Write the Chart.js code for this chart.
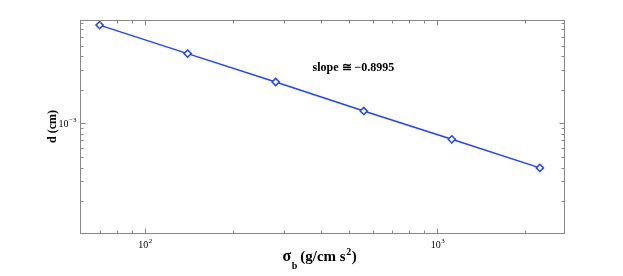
<!DOCTYPE html>
<html>
<head>
<meta charset="utf-8">
<script src="https://cdn.jsdelivr.net/npm/chart.js@4"></script>
<style>
  html, body { margin: 0; padding: 0; background: #fff; }
  #wrap { width: 623px; height: 276px; }
</style>
</head>
<body>
<div id="wrap"><canvas id="c" width="623" height="276"></canvas></div>
<script>
/* data */
var sigmaB = [70, 140, 280, 560, 1120, 2240];
var dCm = [7.63e-3, 4.23e-3, 2.35e-3, 1.29e-3, 7.17e-4, 3.97e-4];

var xMajor = [100, 1000];
var xMajorLabels = [['10', '2'], ['10', '3']];
var yMajor = [1e-3];
var yMajorLabels = [['10', '\u22123']];

var slopeText = 'slope \u2245 \u22120.8995';

var AXIS = '#888';
var BLUE = '#2343ff';
var SERIF = '"Liberation Serif", "DejaVu Serif", serif';

/* minor ticks for each decade inside the axis range */
function logTicks(min, max) {
  var out = [];
  var e0 = Math.floor(Math.log10(min)), e1 = Math.ceil(Math.log10(max));
  for (var e = e0; e <= e1; e++) {
    for (var m = 1; m < 10; m++) {
      var v = m * Math.pow(10, e);
      if (v > min * 1.001 && v < max * 0.999) out.push(v);
    }
  }
  return out;
}

var framePlugin = {
  id: 'frame',
  afterDraw: function(chart) {
    var ctx = chart.ctx, a = chart.chartArea;
    var xs = chart.scales.x, ys = chart.scales.y;
    var L = Math.round(a.left) + 0.5, R = Math.round(a.right) - 0.5;
    var T = Math.round(a.top) + 0.5, B = Math.round(a.bottom) - 0.5;

    ctx.save();
    ctx.strokeStyle = AXIS;
    ctx.lineWidth = 1;
    ctx.strokeRect(L, T, R - L, B - T);

    ctx.beginPath();
    logTicks(xs.min, xs.max).forEach(function(v) {
      var px = Math.round(xs.getPixelForValue(v)) + 0.5;
      var len = xMajor.indexOf(v) >= 0 ? 5 : 3;
      ctx.moveTo(px, B); ctx.lineTo(px, B - len);
      ctx.moveTo(px, T); ctx.lineTo(px, T + len);
    });
    logTicks(ys.min, ys.max).forEach(function(v) {
      var py = Math.round(ys.getPixelForValue(v)) + 0.5;
      var major = yMajor.some(function(m) { return Math.abs(m - v) / m < 1e-6; });
      var len = major ? 5 : 3;
      ctx.moveTo(L, py); ctx.lineTo(L + len, py);
      ctx.moveTo(R, py); ctx.lineTo(R - len, py);
    });
    ctx.stroke();

    /* tick labels with superscripts */
    ctx.fillStyle = '#000';
    ctx.textBaseline = 'alphabetic';
    xMajor.forEach(function(v, i) {
      var px = xs.getPixelForValue(v);
      ctx.font = '10px ' + SERIF;
      var wb = ctx.measureText(xMajorLabels[i][0]).width;
      ctx.font = '7px ' + SERIF;
      var we = ctx.measureText(xMajorLabels[i][1]).width;
      var x0 = px - (wb + we) / 2;
      ctx.font = '10px ' + SERIF;
      ctx.textAlign = 'left';
      ctx.fillText(xMajorLabels[i][0], x0, 248);
      ctx.font = '7px ' + SERIF;
      ctx.fillText(xMajorLabels[i][1], x0 + wb + 0.5, 243);
    });
    yMajor.forEach(function(v, i) {
      var py = ys.getPixelForValue(v);
      ctx.font = '7px ' + SERIF;
      var we = ctx.measureText(yMajorLabels[i][1]).width;
      ctx.font = '10px ' + SERIF;
      var wb = ctx.measureText(yMajorLabels[i][0]).width;
      var x1 = L - 4;
      ctx.textAlign = 'left';
      ctx.fillText(yMajorLabels[i][0], x1 - we - wb - 0.5, py + 3.5);
      ctx.font = '7px ' + SERIF;
      ctx.fillText(yMajorLabels[i][1], x1 - we, py - 1.5);
    });

    /* x axis title: sigma_b (g/cm s^2) */
    var x = 282.5, base = 261;
    ctx.textAlign = 'left';
    ctx.font = 'bold 16px ' + SERIF;
    ctx.fillText('\u03c3', x, base);
    x += ctx.measureText('\u03c3').width + 0.5;
    ctx.font = 'bold 10px ' + SERIF;
    ctx.fillText('b', x, base + 8);
    x += ctx.measureText('b').width + 3;
    ctx.font = 'bold 15px ' + SERIF;
    ctx.fillText('(g/cm s', x, base);
    x += ctx.measureText('(g/cm s').width + 0.5;
    ctx.font = 'bold 10px ' + SERIF;
    ctx.fillText('2', x, base - 6.5);
    x += ctx.measureText('2').width + 0.5;
    ctx.font = 'bold 15px ' + SERIF;
    ctx.fillText(')', x, base);

    /* y axis title */
    ctx.save();
    ctx.translate(56, 126.5);
    ctx.rotate(-Math.PI / 2);
    ctx.textAlign = 'center';
    ctx.font = 'bold 12px ' + SERIF;
    ctx.fillText('d (cm)', 0, 0);
    ctx.restore();

    /* annotation */
    ctx.textAlign = 'left';
    ctx.font = 'bold 12px ' + SERIF;
    ctx.fillText(slopeText, 312.5, 70.5);

    ctx.restore();
  }
};

var points = sigmaB.map(function(s, i) { return { x: s, y: dCm[i] }; });

new Chart(document.getElementById('c'), {
  type: 'line',
  data: {
    datasets: [{
      data: points,
      borderColor: BLUE,
      borderWidth: 1.5,
      pointStyle: 'rectRot',
      pointRadius: 3.6,
      pointBorderColor: BLUE,
      pointBackgroundColor: '#fff',
      pointBorderWidth: 1.5,
      tension: 0,
      fill: false
    }]
  },
  options: {
    responsive: false,
    animation: false,
    events: [],
    layout: { padding: { left: 80, right: 58, top: 20, bottom: 42 } },
    plugins: { legend: { display: false }, tooltip: { enabled: false } },
    scales: {
      x: {
        type: 'logarithmic', min: 60, max: 2730,
        grid: { display: false, drawTicks: false },
        border: { display: false },
        ticks: { display: false }
      },
      y: {
        type: 'logarithmic', min: 1.01e-4, max: 8.48e-3,
        grid: { display: false, drawTicks: false },
        border: { display: false },
        ticks: { display: false }
      }
    }
  },
  plugins: [framePlugin]
});
</script>
</body>
</html>
